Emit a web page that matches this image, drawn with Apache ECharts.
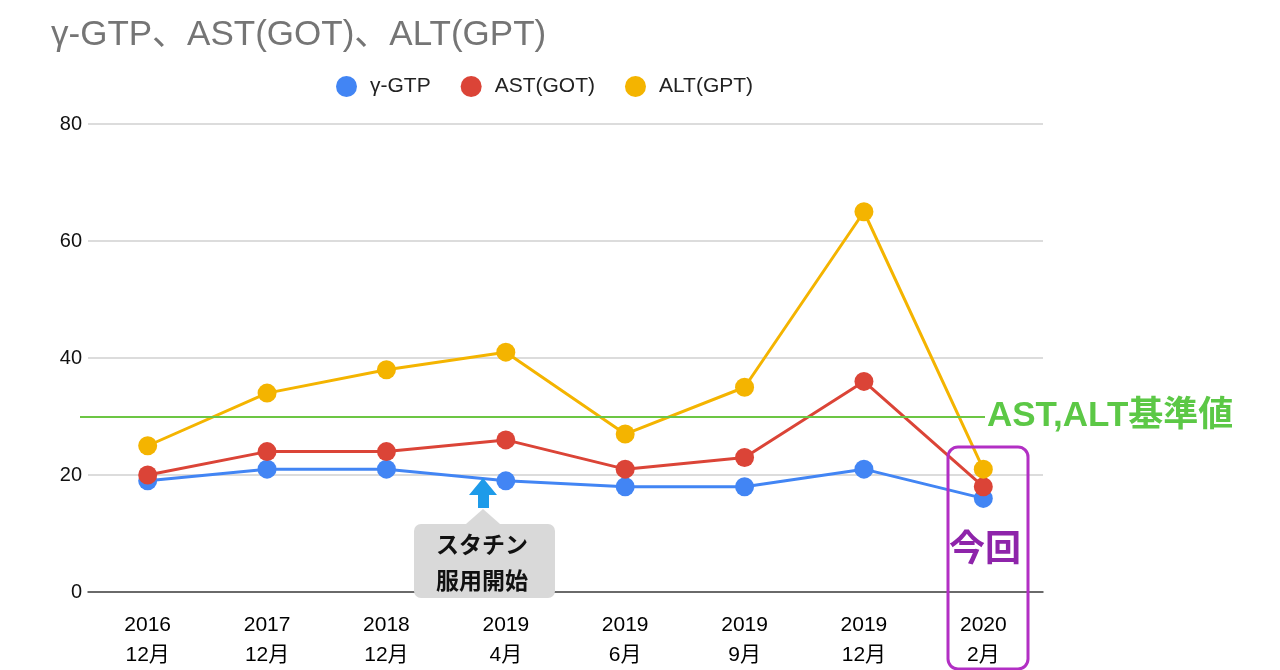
<!DOCTYPE html>
<html>
<head>
<meta charset="utf-8">
<script src="https://cdn.jsdelivr.net/npm/echarts@6/dist/echarts.min.js"></script>
<style>
    html, body { margin: 0; padding: 0; background: #fff; }
    #chart { width: 1280px; height: 670px; }
</style>
</head>
<body>
<div id="chart"></div>
<script>
// data
const categories = ['2016\n12月', '2017\n12月', '2018\n12月', '2019\n4月', '2019\n6月', '2019\n9月', '2019\n12月', '2020\n2月']
const gtp = [19, 21, 21, 19, 18, 18, 21, 16]
const ast = [20, 24, 24, 26, 21, 23, 36, 18]
const alt = [25, 34, 38, 41, 27, 35, 65, 21]
const yTicks = [0, 20, 40, 60, 80]
const baseLine = 30

const font = '"Liberation Sans", Arial, "Noto Sans CJK JP", sans-serif'
const jpFont = '"Noto Sans CJK JP", sans-serif'

const lineSeries = (name, data, color) => ({
    name: name,
    type: 'line',
    data: data,
    symbol: 'circle',
    symbolSize: 19,
    lineStyle: { width: 3, color: color },
    itemStyle: { color: color },
    z: 3,
})

const myChart = echarts.init(document.getElementById('chart'))
const option = {
    backgroundColor: '#fff',
    animation: false,
    title: {
        text: 'γ-GTP、AST(GOT)、ALT(GPT)',
        left: 46,
        top: 13,
        textStyle: { color: '#757575', fontSize: 35, fontWeight: 'normal', fontFamily: font },
    },
    legend: {
        top: 71,
        left: 331,
        itemGap: 30,
        icon: 'circle',
        itemWidth: 21,
        itemHeight: 21,
        textStyle: { color: '#222', fontSize: 21, fontFamily: font, padding: [0, 0, 0, 8] },
        data: ['γ-GTP', 'AST(GOT)', 'ALT(GPT)'],
    },
    grid: { left: 88, right: 237, top: 124, bottom: 78 },
    xAxis: {
        type: 'category',
        data: categories,
        axisTick: { show: false },
        axisLine: { lineStyle: { color: '#444', width: 1.5 } },
        axisLabel: {
            color: '#000',
            fontSize: 21,
            fontFamily: font,
            lineHeight: 30,
            margin: 18,
        },
    },
    yAxis: {
        type: 'value',
        min: yTicks[0],
        max: yTicks[yTicks.length - 1],
        interval: 20,
        axisLabel: { color: '#111', fontSize: 20, fontFamily: font, margin: 6 },
        splitLine: { lineStyle: { color: '#d0d0d0', width: 1.5 } },
    },
    series: [
        lineSeries('γ-GTP', gtp, '#4285f4'),
        lineSeries('AST(GOT)', ast, '#db4437'),
        Object.assign(lineSeries('ALT(GPT)', alt, '#f4b400'), {
            markLine: {
                silent: true,
                symbol: 'none',
                label: { show: false },
                lineStyle: { color: '#6cc644', width: 2, type: 'solid' },
                data: [[{ coord: [-0.5, baseLine], x: 80 }, { coord: [7.5, baseLine], x: 985 }]],
            },
        }),
    ],
    graphic: [
        // green label
        {
            type: 'text',
            left: 987,
            top: 399,
            style: { text: 'AST,ALT基準値', fill: '#5cc846', font: 'bold 35px ' + font },
        },
        // purple frame
        {
            type: 'rect',
            shape: { x: 948, y: 447, width: 80, height: 222, r: 10 },
            style: { fill: 'none', stroke: '#b22fc4', lineWidth: 3 },
            z: 10,
        },
        {
            type: 'text',
            left: 949,
            top: 529,
            style: {
                text: '今回',
                fill: '#8e24aa',
                font: 'bold 36px ' + jpFont,
                shadowBlur: 8,
                shadowColor: 'rgba(230,120,240,0.8)',
            },
            z: 10,
        },
        // arrow
        {
            type: 'polygon',
            shape: { points: [[483, 478], [469, 495], [478, 495], [478, 508], [489, 508], [489, 495], [497, 495]] },
            style: { fill: '#1e9be9' },
            z: 10,
        },
        // callout bubble
        {
            type: 'polygon',
            shape: { points: [[466, 524], [483, 509], [500, 524]] },
            style: { fill: '#d9d9d9' },
            z: 9,
        },
        {
            type: 'rect',
            shape: { x: 414, y: 524, width: 141, height: 74, r: 7 },
            style: { fill: '#d9d9d9' },
            z: 9,
        },
        {
            type: 'text',
            left: 436,
            top: 526,
            style: { text: 'スタチン\n服用開始', fill: '#111', font: 'bold 23px ' + jpFont, lineHeight: 36, align: 'left' },
            z: 10,
        },
    ],
}
myChart.setOption(option)
</script>
</body>
</html>
